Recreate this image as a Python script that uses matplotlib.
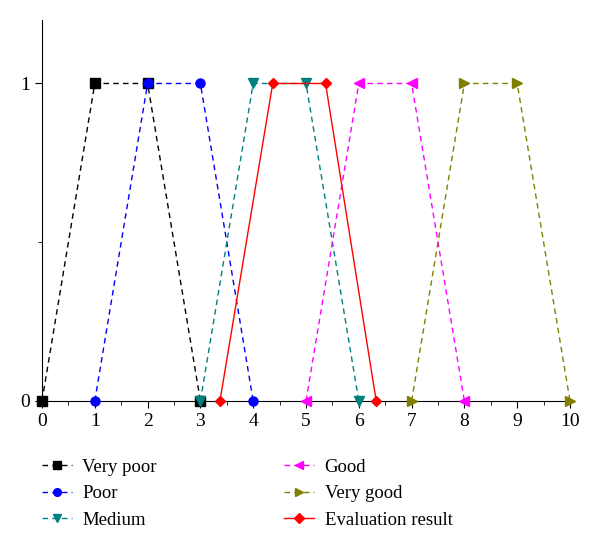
import matplotlib.pyplot as plt
from matplotlib.ticker import MultipleLocator

plt.rcParams['font.family'] = ['Liberation Serif', 'DejaVu Serif']

# grade membership functions (trapezoids)
very_poor_x = [0, 1, 2, 3]
poor_x = [1, 2, 3, 4]
medium_x = [3, 4, 5, 6]
good_x = [5, 6, 7, 8]
very_good_x = [7, 8, 9, 10]
result_x = [3.37, 4.37, 5.37, 6.33]
trap_y = [0, 1, 1, 0]

series = [
    ('Very poor', very_poor_x, 'black', 's', '--'),
    ('Poor', poor_x, 'blue', 'o', '--'),
    ('Medium', medium_x, '#008080', 'v', '--'),
    ('Good', good_x, 'magenta', '<', '--'),
    ('Very good', very_good_x, '#808000', '>', '--'),
    ('Evaluation result', result_x, 'red', 'D', '-'),
]

fig = plt.figure(figsize=(6, 5.52), dpi=100)
ax = fig.add_axes([0.07, 0.2736, 0.88, 0.6902])

for name, xs, c, m, ls in series:
    line, = ax.plot(xs, trap_y, linestyle=ls, color=c, marker=m,
                    markersize=6.5 if m != 'D' else 5.5,
                    linewidth=1, label=name, clip_on=False, zorder=3)
    if ls == '--':
        line.set_dashes((4, 3))

ax.set_xlim(0, 10)
ax.set_ylim(0, 1.2)
ax.set_xticks(range(0, 11))
ax.set_yticks([0, 1])
ax.xaxis.set_minor_locator(MultipleLocator(0.5))
ax.yaxis.set_minor_locator(MultipleLocator(0.5))
ax.spines['top'].set_visible(False)
ax.spines['right'].set_visible(False)
ax.tick_params(which='major', length=5, labelsize=14)
ax.tick_params(which='minor', length=3)

h, l = ax.get_legend_handles_labels()
fig.legend(h, l, ncol=2, loc='upper left', bbox_to_anchor=(0.042, 0.2),
           frameon=False, fontsize=13.5, handlelength=1.6, handletextpad=0.55,
           columnspacing=6.8, labelspacing=0.5, markerscale=0.85)

fig.savefig('out.png', dpi=100)
